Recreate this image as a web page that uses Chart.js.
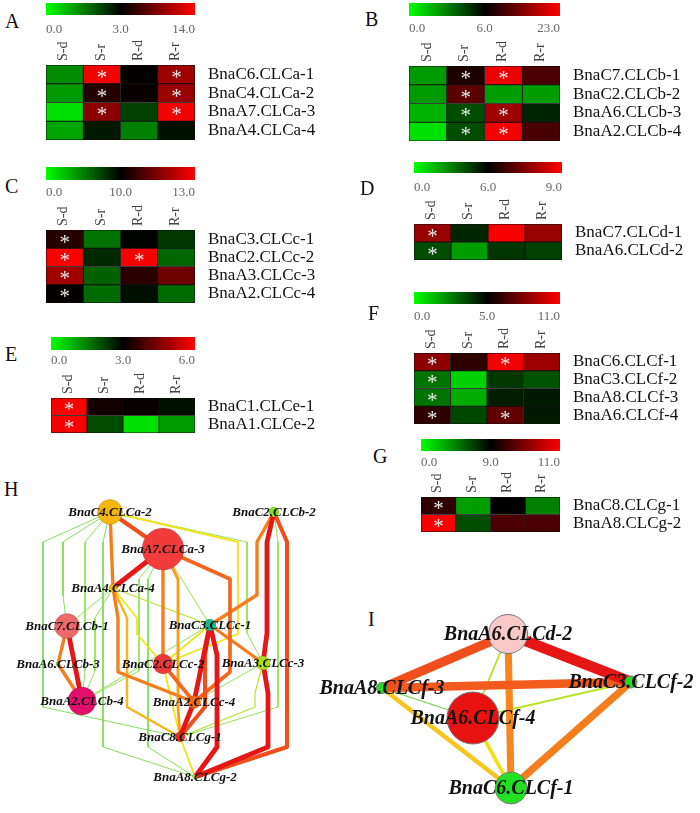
<!DOCTYPE html>
<html>
<head>
<meta charset="utf-8">
<script src="https://cdn.jsdelivr.net/npm/chart.js@4.4.0/dist/chart.umd.min.js"></script>
<style>
  body { margin: 0; background: #fff; width: 700px; height: 813px; position: relative; overflow: hidden; }
  canvas { position: absolute; }
  .tag { position: absolute; font-family: "Liberation Serif", "Times New Roman", serif; font-size: 20px; line-height: 20px; color: #111; }
</style>
</head>
<body>
<script>
const FONT = '"Liberation Serif", "Times New Roman", serif';

// column headers shared by every heatmap
const conditions = ['S-d', 'S-r', 'R-d', 'R-r'];

// A
const genesA = ['BnaC6.CLCa-1', 'BnaC4.CLCa-2', 'BnaA7.CLCa-3', 'BnaA4.CLCa-4'];
const rangeA = [0, 3, 14];
const valuesA = [
  [1.35, 13.5, 3.2, 9.8],
  [1.2, 4.6, 3.4, 9.6],
  [0.35, 9.0, 2.25, 13.4],
  [1.05, 2.7, 1.5, 2.8]
];
const starsA = [[0, 1, 0, 1], [0, 1, 0, 1], [0, 1, 0, 1], [0, 0, 0, 0]];

// B
const genesB = ['BnaC7.CLCb-1', 'BnaC2.CLCb-2', 'BnaA6.CLCb-3', 'BnaA2.CLCb-4'];
const rangeB = [0, 6, 23];
const valuesB = [
  [2.4, 8.0, 21.8, 11.1],
  [2.4, 12.0, 2.3, 2.3],
  [1.8, 4.2, 16.5, 5.1],
  [0.7, 4.2, 22.2, 10.8]
];
const starsB = [[0, 1, 1, 0], [0, 1, 0, 0], [0, 1, 1, 0], [0, 1, 1, 0]];

// C
const genesC = ['BnaC3.CLCc-1', 'BnaC2.CLCc-2', 'BnaA3.CLCc-3', 'BnaA2.CLCc-4'];
const rangeC = [0, 10, 13];
const valuesC = [
  [10.45, 5.5, 9.9, 7.8],
  [12.95, 8.4, 12.9, 6.0],
  [11.9, 6.2, 10.5, 11.3],
  [10.05, 5.8, 9.4, 5.8]
];
const starsC = [[1, 0, 0, 0], [1, 0, 1, 0], [1, 0, 0, 0], [1, 0, 0, 0]];

// D
const genesD = ['BnaC7.CLCd-1', 'BnaA6.CLCd-2'];
const rangeD = [0, 6, 9];
const valuesD = [
  [7.8, 5.1, 8.9, 7.8],
  [4.2, 2.3, 4.7, 4.5]
];
const starsD = [[1, 0, 0, 0], [1, 0, 0, 0]];

// E
const genesE = ['BnaC1.CLCe-1', 'BnaA1.CLCe-2'];
const rangeE = [0, 3, 6];
const valuesE = [
  [5.95, 3.2, 3.1, 2.8],
  [5.95, 2.1, 0.35, 1.15]
];
const starsE = [[1, 0, 0, 0], [1, 0, 0, 0]];

// F
const genesF = ['BnaC6.CLCf-1', 'BnaC3.CLCf-2', 'BnaA8.CLCf-3', 'BnaA6.CLCf-4'];
const rangeF = [0, 5, 11];
const valuesF = [
  [8.3, 6.1, 10.7, 8.7],
  [2.75, 0.9, 3.9, 3.35],
  [2.75, 1.6, 4.4, 4.5],
  [6.1, 3.6, 7.3, 4.5]
];
const starsF = [[1, 0, 1, 0], [1, 0, 0, 0], [1, 0, 0, 0], [1, 0, 1, 0]];

// G
const genesG = ['BnaC8.CLCg-1', 'BnaA8.CLCg-2'];
const rangeG = [0, 9, 11];
const valuesG = [
  [9.36, 3.4, 9.0, 4.5],
  [10.94, 6.3, 9.6, 9.6]
];
const starsG = [[1, 0, 0, 0], [1, 0, 0, 0]];

// H network: nodes (layout position), node size, edges [from, to, weight, lane]
const hGenes = ['BnaC4.CLCa-2', 'BnaA7.CLCa-3', 'BnaC2.CLCb-2', 'BnaA4.CLCa-4', 'BnaC7.CLCb-1', 'BnaC3.CLCc-1',
  'BnaA6.CLCb-3', 'BnaC2.CLCc-2', 'BnaA3.CLCc-3', 'BnaA2.CLCb-4', 'BnaA2.CLCc-4', 'BnaC8.CLCg-1', 'BnaA8.CLCg-2'];
const hX = [110, 163, 274, 113, 67, 210, 58, 163, 263, 82, 194, 180, 195];
const hY = [512, 549, 512, 588, 626, 625, 664, 664, 663, 701, 702, 737, 777];
const hSize = [12.5, 21, 5, 4, 12.5, 6, 2, 10, 7, 14, 6.5, 5, 2.5];
const hEdges = [
  [0, 1, 0.9, null], [0, 3, 0.8, null], [1, 3, 1.0, null],
  [0, 11, 0.15, 43], [0, 4, 0.15, 63], [0, 9, 0.2, 85], [0, 7, 0.5, 238], [0, 8, 0.2, 247], [0, 12, 0.15, 103],
  [1, 7, 0.8, null], [1, 11, 0.72, 178], [1, 10, 0.85, 230], [1, 5, 0.2, null], [1, 12, 0.15, 148], [1, 9, 0.2, 139],
  [2, 5, 0.8, 257], [2, 8, 1.0, 267], [8, 12, 1.0, 268], [2, 12, 0.9, 287], [2, 11, 0.2, 278],
  [3, 4, 0.2, null], [3, 5, 0.3, null], [3, 7, 0.5, 137], [3, 10, 0.8, 118], [3, 11, 0.65, 127], [3, 9, 0.2, 95],
  [4, 9, 1.0, null], [4, 6, 0.8, null], [6, 9, 0.8, null],
  [5, 10, 1.0, null], [5, 12, 1.0, 217], [5, 8, 0.8, null], [5, 7, 0.5, null], [5, 9, 0.2, null], [5, 11, 0.9, 205],
  [7, 10, 0.85, null], [7, 11, 0.5, null], [10, 11, 1.0, null], [8, 11, 0.3, 255], [8, 10, 0.2, null], [11, 12, 0.5, null]
];

// I network
const iGenes = ['BnaA6.CLCd-2', 'BnaC3.CLCf-2', 'BnaA8.CLCf-3', 'BnaA6.CLCf-4', 'BnaC6.CLCf-1'];
const iX = [508, 631, 382, 473, 511];
const iY = [634, 682, 688, 718, 788];
const iSize = [19.5, 6, 5.5, 26, 16];
const iEdges = [[0, 2, 0.9], [0, 1, 1.0], [0, 3, 0.3], [0, 4, 0.78], [2, 1, 0.88],
  [2, 3, 0.12], [2, 4, 0.6], [1, 3, 0.32], [1, 4, 0.8], [3, 4, 0.52]];

// node fills
const hColors = ['#f5b50f', '#f23c3c', '#86e01e', '#f4b416', '#ee6a6a', '#1db48c', '#6cd03c',
  '#ec3838', '#acde12', '#e2106a', '#ee6a12', '#e43020', '#d6e040'];
const iColors = ['#f9c9c9', '#22dd22', '#22dd22', '#e81212', '#22e022'];

// weight -> edge colour
const edgeStops = [[0, [46, 200, 46]], [0.2, [143, 224, 80]], [0.3, [180, 228, 42]], [0.5, [242, 228, 28]],
  [0.6, [246, 197, 30]], [0.75, [246, 148, 30]], [0.88, [242, 90, 30]], [1, [230, 22, 22]]];
function edgeColor(w) {
  for (let k = 1; k < edgeStops.length; k++) {
    if (w <= edgeStops[k][0]) {
      const [a, ca] = edgeStops[k - 1], [b, cb] = edgeStops[k];
      const t = (w - a) / (b - a);
      return 'rgb(' + ca.map((c, j) => Math.round(c + (cb[j] - c) * t)).join(',') + ')';
    }
  }
  return 'rgb(230,22,22)';
}

function cellColor(v, range) {
  const [lo, mid, hi] = range;
  if (v <= mid) {
    const t = Math.min(1, (mid - v) / (mid - lo));
    return 'rgb(0,' + Math.round(255 * t) + ',0)';
  }
  const t = Math.min(1, (v - mid) / (hi - mid));
  return 'rgb(' + Math.round(255 * t) + ',0,0)';
}

function addCanvas(left, top, w, h) {
  const c = document.createElement('canvas');
  c.width = w; c.height = h;
  c.style.left = left + 'px'; c.style.top = top + 'px';
  c.style.width = w + 'px'; c.style.height = h + 'px';
  document.body.appendChild(c);
  return c;
}

function addTag(text, left, top) {
  const d = document.createElement('div');
  d.className = 'tag';
  d.textContent = text;
  d.style.left = left + 'px'; d.style.top = top + 'px';
  document.body.appendChild(d);
}

const base = { responsive: false, animation: false, devicePixelRatio: 1,
  plugins: { legend: { display: false }, tooltip: { enabled: false } }, layout: { padding: 0 } };

function colorBar(range, bar, tickY) {
  const w = bar[2] - bar[0], barH = bar[3] - bar[1];
  const h = tickY - bar[1] + 10;
  new Chart(addCanvas(bar[0], bar[1], w, h), {
    type: 'bar',
    data: { labels: ['key'], datasets: [{ data: [[0, 2]], borderWidth: 0, barPercentage: 1, categoryPercentage: 1,
      backgroundColor: ctx => {
        const a = ctx.chart.chartArea;
        if (!a) return '#000';
        const g = ctx.chart.ctx.createLinearGradient(a.left, 0, a.right, 0);
        g.addColorStop(0, '#00ff00'); g.addColorStop(0.5, '#000000'); g.addColorStop(1, '#ff0000');
        return g;
      } }] },
    options: { ...base, indexAxis: 'y',
      scales: {
        x: { type: 'linear', min: 0, max: 2,
          afterBuildTicks: s => { s.ticks = [0, 1, 2].map(v => ({ value: v })); },
          ticks: { callback: (v, i) => range[i].toFixed(1), align: 'inner', autoSkip: false, maxRotation: 0,
            font: { family: FONT, size: 13 }, color: '#666', padding: tickY - bar[3] - 8 },
          grid: { display: false, drawTicks: false }, border: { display: false },
          afterFit: s => { s.height = h - barH; s.paddingLeft = 0; s.paddingRight = 0; } },
        y: { display: false }
      } }
  });
}

function heatmap(genes, values, stars, range, cells) {
  const headH = 34, labelW = Math.min(150, 700 - cells[2] - 2);
  const w = cells[2] - cells[0] + labelW, h = cells[3] - cells[1] + headH;
  new Chart(addCanvas(cells[0], cells[1] - headH, w, h), {
    type: 'bar',
    data: { labels: genes, datasets: conditions.map((c, j) => ({
      label: c, data: genes.map(() => 1),
      backgroundColor: genes.map((g, i) => cellColor(values[i][j], range)),
      borderColor: '#111', borderWidth: 0.8, borderSkipped: false, barPercentage: 1, categoryPercentage: 1 })) },
    options: { ...base, indexAxis: 'y',
      scales: {
        x: { type: 'linear', stacked: true, position: 'top', min: 0, max: 4,
          afterBuildTicks: s => { s.ticks = conditions.map((c, j) => ({ value: j + 0.5 })); },
          ticks: { callback: (v, i) => conditions[i], minRotation: 90, maxRotation: 90, autoSkip: false,
            font: { family: FONT, size: 14 }, color: '#444', padding: 4, labelOffset: 16 },
          grid: { display: false, drawTicks: false }, border: { display: false },
          afterFit: s => { s.height = headH; s.paddingLeft = 0; s.paddingRight = 0; } },
        y: { stacked: true, position: 'right',
          ticks: { font: { family: FONT, size: 17 }, color: '#111', padding: 13, autoSkip: false },
          grid: { display: false, drawTicks: false }, border: { display: false },
          afterFit: s => { s.width = labelW; s.paddingTop = 0; s.paddingBottom = 0; } }
      } },
    plugins: [{ id: 'stars', afterDatasetsDraw(chart) {
      const ctx = chart.ctx;
      ctx.save();
      ctx.fillStyle = '#e8e8e8';
      ctx.font = '21px ' + FONT;
      ctx.textAlign = 'center'; ctx.textBaseline = 'middle';
      stars.forEach((row, i) => row.forEach((s, j) => {
        if (!s) return;
        ctx.fillText('*', chart.scales.x.getPixelForValue(j + 0.5), chart.scales.y.getPixelForValue(i) + 4);
      }));
      ctx.restore();
    } }]
  });
}

function network(names, xs, ys, sizes, colors, edges, box, widthOf, fontPx, nodeBorder) {
  const [left, top, w, h] = box;
  // the bubble controller pads the chart area by its largest radius; widen the canvas to match
  const pad = Math.max(...sizes) + 1;
  const P = i => ({ x: xs[i], y: ys[i] });
  const edgeSets = edges.map(([s, t, wt, lane]) => {
    let pts = [P(s), P(t)];
    if (lane != null) pts = [P(s), { x: lane, y: ys[s] + 30 }, { x: lane, y: ys[t] - 30 }, P(t)];
    return { type: 'line', data: pts, borderColor: edgeColor(wt), borderWidth: widthOf(wt),
      pointRadius: 0, tension: 0, fill: false, order: 2 + Math.round((1 - wt) * 100), borderJoinStyle: 'round' };
  });
  new Chart(addCanvas(left - pad, top - pad, w + 2 * pad, h + 2 * pad), {
    type: 'bubble',
    data: { datasets: [...edgeSets, { type: 'bubble', order: 0,
      data: names.map((n, i) => ({ x: xs[i], y: ys[i], r: sizes[i] })),
      backgroundColor: colors, borderColor: nodeBorder, borderWidth: 1 }] },
    options: { ...base,
      scales: { x: { type: 'linear', min: left, max: left + w, display: false },
                y: { type: 'linear', min: top, max: top + h, reverse: true, display: false } } },
    plugins: [{ id: 'names', afterDatasetsDraw(chart) {
      const ctx = chart.ctx;
      ctx.save();
      ctx.font = 'italic bold ' + fontPx + 'px ' + FONT;
      ctx.fillStyle = '#111';
      ctx.textAlign = 'center'; ctx.textBaseline = 'middle';
      names.forEach((n, i) => ctx.fillText(n, chart.scales.x.getPixelForValue(xs[i]), chart.scales.y.getPixelForValue(ys[i]) + 1));
      ctx.restore();
    } }]
  });
}

const panels = [
  { tag: 'A', at: [5, 11], genes: genesA, values: valuesA, stars: starsA, range: rangeA, bar: [46, 3, 195, 15], tickY: 30, cells: [46, 65, 195, 140] },
  { tag: 'B', at: [365, 9], genes: genesB, values: valuesB, stars: starsB, range: rangeB, bar: [409, 3, 560, 16], tickY: 29, cells: [409, 66, 560, 141] },
  { tag: 'C', at: [5, 176], genes: genesC, values: valuesC, stars: starsC, range: rangeC, bar: [46, 167, 195, 180], tickY: 193, cells: [46, 230, 195, 303] },
  { tag: 'D', at: [360, 178], genes: genesD, values: valuesD, stars: starsD, range: rangeD, bar: [414, 162, 562, 173], tickY: 188, cells: [414, 224, 562, 260] },
  { tag: 'E', at: [5, 344], genes: genesE, values: valuesE, stars: starsE, range: rangeE, bar: [51, 337, 195, 350], tickY: 361, cells: [51, 398, 195, 433] },
  { tag: 'F', at: [368, 303], genes: genesF, values: valuesF, stars: starsF, range: rangeF, bar: [414, 292, 560, 304], tickY: 317, cells: [414, 353, 560, 424] },
  { tag: 'G', at: [373, 446], genes: genesG, values: valuesG, stars: starsG, range: rangeG, bar: [421, 439, 560, 451], tickY: 463, cells: [421, 497, 560, 532] }
];

panels.forEach(p => {
  addTag(p.tag, p.at[0], p.at[1]);
  colorBar(p.range, p.bar, p.tickY);
  heatmap(p.genes, p.values, p.stars, p.range, p.cells);
});

addTag('H', 4, 479);
network(hGenes, hX, hY, hSize, hColors, hEdges, [0, 490, 345, 305], w => 0.8 + 4 * w * w, 13, 'rgba(0,0,0,0.12)');
addTag('I', 368, 609);
network(iGenes, iX, iY, iSize, iColors, iEdges.map(e => [...e, null]), [300, 590, 400, 223], w => 1 + 10 * w * w, 20, '#777');
</script>
</body>
</html>
